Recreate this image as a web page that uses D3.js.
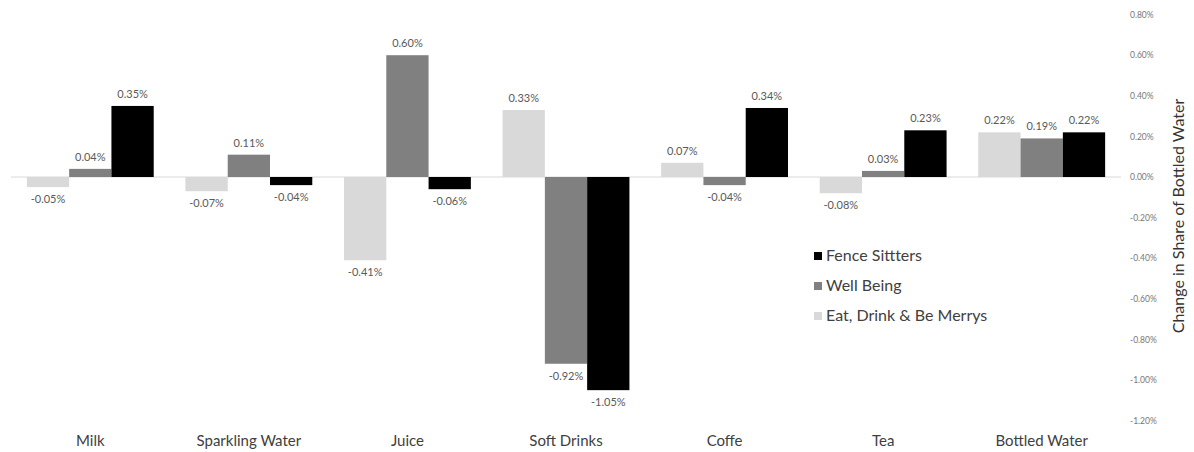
<!DOCTYPE html>
<html><head><meta charset="utf-8">
<script src="https://cdn.jsdelivr.net/npm/d3@7"></script>
<style>body{margin:0;background:#fff}svg{display:block}text{font-family:Lato,"Open Sans",sans-serif}</style>
</head><body><svg id="c" width="1194" height="452"></svg>
<script>
const categories = ["Milk","Sparkling Water","Juice","Soft Drinks","Coffe","Tea","Bottled Water"];
const seriesNames = ["Eat, Drink & Be Merrys","Well Being","Fence Sittters"];
const eatDrink = [-0.05,-0.07,-0.41,0.33,0.07,-0.08,0.22];
const wellBeing = [0.04,0.11,0.60,-0.92,-0.04,0.03,0.19];
const fenceSitters = [0.35,-0.04,-0.06,-1.05,0.34,0.23,0.22];
const yTicks = [0.8,0.6,0.4,0.2,0,-0.2,-0.4,-0.6,-0.8,-1.0,-1.2];
const legendOrder = ["Fence Sittters","Well Being","Eat, Drink & Be Merrys"];
const colors = {"Eat, Drink & Be Merrys":"#d9d9d9","Well Being":"#808080","Fence Sittters":"#000000"};
const seriesVals = [eatDrink, wellBeing, fenceSitters];

const svg = d3.select("#c");
const x = d3.scaleBand().domain(categories).range([11,1121]).paddingInner(0.2).paddingOuter(0.1);
const xs = d3.scaleBand().domain(seriesNames).range([0,x.bandwidth()]);
const y = d3.scaleLinear().domain([-1.2,0.8]).range([420.6,14.6]);

svg.append("line").attr("x1",11).attr("x2",1121).attr("y1",y(0)).attr("y2",y(0))
  .attr("stroke","#d9d9d9").attr("stroke-width",1);

const fmt = v => v.toFixed(2)+"%";
const data = [];
categories.forEach((c,i)=>seriesNames.forEach((s,j)=>data.push({c,s,v:seriesVals[j][i]})));

svg.append("g").selectAll("rect").data(data).join("rect")
  .attr("x",d=>x(d.c)+xs(d.s)).attr("width",xs.bandwidth())
  .attr("y",d=>y(Math.max(0,d.v))).attr("height",d=>Math.abs(y(d.v)-y(0)))
  .attr("fill",d=>colors[d.s]);

svg.append("g").selectAll("text").data(data).join("text")
  .attr("x",d=>x(d.c)+xs(d.s)+xs.bandwidth()/2)
  .attr("y",d=>d.v>=0? y(d.v)-8 : y(d.v)+16)
  .attr("text-anchor","middle").attr("font-size",11).attr("fill","#595959")
  .text(d=>fmt(d.v));

svg.append("g").selectAll("text").data(categories).join("text")
  .attr("x",d=>x(d)+x.bandwidth()/2).attr("y",446)
  .attr("text-anchor","middle").attr("font-size",15).attr("fill","#404040").text(d=>d);

const ax = svg.append("g").attr("transform","translate(1127,0)")
  .call(d3.axisRight(y).tickValues(yTicks).tickSize(0).tickPadding(3).tickFormat(d=>d.toFixed(2)+"%"));
ax.select(".domain").remove();
ax.selectAll("text").attr("font-size",8.5).attr("fill","#777").style("font-family","Lato,sans-serif");

svg.append("text").attr("transform","translate(1184,216) rotate(-90)")
  .attr("text-anchor","middle").attr("font-size",16).attr("fill","#333")
  .text("Change in Share of Bottled Water");

const lg = svg.append("g").selectAll("g").data(legendOrder).join("g")
  .attr("transform",(d,i)=>`translate(814,${256+i*30})`);
lg.append("rect").attr("x",0).attr("y",-4).attr("width",8).attr("height",8).attr("fill",d=>colors[d]);
lg.append("text").attr("x",12).attr("y",5).attr("font-size",16).attr("fill","#404040").text(d=>d);
</script></body></html>
